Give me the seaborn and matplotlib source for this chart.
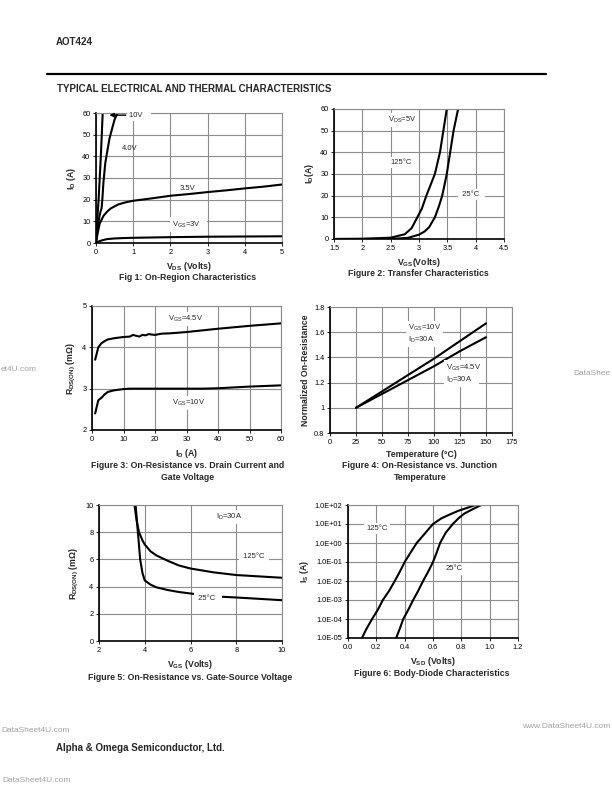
import matplotlib
matplotlib.use("Agg")
import matplotlib.pyplot as plt
import seaborn as sns
from matplotlib.ticker import FixedLocator, NullLocator

sns.set_style("white")
plt.rcParams["font.family"] = ["Liberation Sans", "DejaVu Sans"]
plt.rcParams["mathtext.fontset"] = "custom"
plt.rcParams["mathtext.rm"] = "Liberation Sans"
plt.rcParams["mathtext.bf"] = "Liberation Sans:bold"
plt.rcParams["mathtext.it"] = "Liberation Sans:italic"

# ---- Fig 1: on-region characteristics (V_DS, I_D)
vds_10v = [0, 0.03, 0.07, 0.10, 0.13, 0.155, 0.18]
id_10v = [0, 10, 20, 30, 40, 50, 60]
vds_4v = [0, 0.03, 0.06, 0.10, 0.13, 0.15, 0.17, 0.20, 0.25, 0.30, 0.36, 0.42, 0.50, 0.58]
id_4v = [0, 5, 9, 13, 15, 16, 20, 28, 37, 42, 48, 52, 57, 60]
vds_35v = [0, 0.05, 0.1, 0.2, 0.3, 0.4, 0.6, 0.8, 1.0, 1.5, 2.0, 2.5, 3.0, 3.5, 4.0, 4.5, 5.0]
id_35v = [0, 5, 9, 12.5, 14.5, 16, 17.8, 18.8, 19.5, 20.6, 21.8, 22.6, 23.5, 24.3, 25.2, 26.0, 27.0]
vds_3v = [0, 0.1, 0.2, 0.3, 0.5, 0.7, 1.0, 1.5, 2.0, 2.5, 3.0, 3.5, 4.0, 4.5, 5.0]
id_3v = [0, 0.9, 1.4, 1.8, 2.1, 2.25, 2.4, 2.55, 2.7, 2.8, 2.9, 2.95, 3.0, 3.05, 3.1]

# ---- Fig 2: transfer characteristics (V_GS, I_D)
vgs_125 = [1.5, 2.0, 2.5, 2.75, 2.87, 2.95, 3.05, 3.13, 3.22, 3.28, 3.37, 3.43, 3.49]
id_125 = [0, 0.1, 0.6, 2.2, 5, 9, 14, 20, 26, 30, 40, 50, 60]
vgs_25 = [1.5, 2.5, 2.8, 3.0, 3.1, 3.18, 3.28, 3.35, 3.41, 3.49, 3.55, 3.61, 3.69]
id_25 = [0, 0.05, 0.5, 2.0, 3.5, 5.5, 10, 15, 20, 30, 40, 50, 60]

# ---- Fig 3: R_DS(ON) vs I_D
id_r = [1, 2, 3, 4, 5, 7, 10, 12, 13, 14, 15, 16, 17, 18, 20, 22, 25, 30, 35, 40, 50, 60]
rds_45v = [3.7, 4.0, 4.1, 4.15, 4.19, 4.22, 4.25, 4.26, 4.3, 4.28, 4.26, 4.3, 4.29, 4.32, 4.30, 4.33, 4.34,
           4.37, 4.41, 4.45, 4.52, 4.58]
rds_10v = [2.4, 2.72, 2.78, 2.86, 2.92, 2.96, 2.99, 3.0, 3.0, 3.0, 3.0, 3.0, 3.0, 3.0, 3.0, 3.0, 3.0,
           3.0, 3.0, 3.01, 3.05, 3.08]

# ---- Fig 4: normalized on-resistance vs temperature
temp = [25, 50, 75, 100, 125, 150]
rn_10v = [1.0, 1.13, 1.26, 1.39, 1.53, 1.67]
rn_45v = [1.0, 1.11, 1.22, 1.33, 1.45, 1.56]

# ---- Fig 5: R_DS(ON) vs V_GS
vgs5_125 = [3.55, 3.65, 3.75, 3.9, 4.0, 4.25, 4.5, 5.0, 5.5, 6.0, 7.0, 8.0, 9.0, 10.0]
rds5_125 = [10.0, 8.8, 8.0, 7.4, 7.1, 6.6, 6.3, 5.9, 5.55, 5.33, 5.05, 4.85, 4.75, 4.65]
vgs5_25 = [3.6, 3.7, 3.8, 3.9, 4.0, 4.25, 4.5, 5.0, 5.5, 6.2, 7.4, 8.0, 9.0, 10.0]
rds5_25 = [10.0, 8.0, 6.0, 5.0, 4.45, 4.15, 3.95, 3.75, 3.6, 3.45, 3.25, 3.2, 3.1, 3.0]

# ---- Fig 6: body diode (V_SD, I_S)
vsd_125 = [0.098, 0.13, 0.17, 0.21, 0.246, 0.29, 0.33, 0.365, 0.40, 0.44, 0.485, 0.54, 0.60,
           0.66, 0.72, 0.78, 0.84, 0.90]
is_125 = [1e-5, 3e-5, 1e-4, 3e-4, 1e-3, 3e-3, 1e-2, 3e-2, 1e-1, 3e-1, 1e0, 3e0, 1e1,
          20, 32, 50, 70, 100]
vsd_25 = [0.34, 0.365, 0.39, 0.425, 0.46, 0.495, 0.53, 0.565, 0.60, 0.625, 0.65, 0.69, 0.74,
          0.78, 0.82, 0.88, 0.94]
is_25 = [1e-5, 3e-5, 1e-4, 3e-4, 1e-3, 3e-3, 1e-2, 3e-2, 1e-1, 3e-1, 1e0, 3.5, 10,
         20, 35, 60, 100]
is_ticks = [1e-5, 1e-4, 1e-3, 1e-2, 1e-1, 1e0, 1e1, 1e2]
is_labels = ["1.0E-05", "1.0E-04", "1.0E-03", "1.0E-02", "1.0E-01", "1.0E+00", "1.0E+01", "1.0E+02"]

W, H = 612, 792
fig = plt.figure(figsize=(W / 100, H / 100), dpi=100)

GRID = "#8c8c8c"
TICK_FS = 5.3
LAB_FS = 6.3
CAP_FS = 6.3
box = dict(facecolor="white", edgecolor="none", pad=1.5)


def make_ax(x0, y0, x1, y1):
    ax = fig.add_axes([x0 / W, 1 - y1 / H, (x1 - x0) / W, (y1 - y0) / H])
    ax.set_facecolor("white")
    for s in ["top", "right"]:
        ax.spines[s].set_color(GRID)
        ax.spines[s].set_linewidth(0.8)
    for s in ["left", "bottom"]:
        ax.spines[s].set_color("black")
        ax.spines[s].set_linewidth(1.2)
    ax.grid(True, color=GRID, linewidth=0.8)
    ax.set_axisbelow(True)
    ax.tick_params(labelsize=TICK_FS, length=2, width=0.6, pad=2, direction="out",
                   left=True, bottom=True, colors="black")
    return ax


def curve(ax, x, y):
    sns.lineplot(x=x, y=y, ax=ax, color="black", linewidth=1.5, sort=False,
                 estimator=None, legend=False)


def ftxt(x, y, s, **kw):
    fig.text(x / W, 1 - y / H, s, **kw)


# header
ftxt(56, 42, "AOT424", fontsize=7, fontweight="bold", va="center")
fig.add_artist(plt.Line2D([47 / W, 546 / W], [1 - 74 / H, 1 - 74 / H], color="black", linewidth=1.6))
ftxt(57, 89, "TYPICAL ELECTRICAL AND THERMAL CHARACTERISTICS", fontsize=7, fontweight="bold", va="center")

# Fig 1
ax1 = make_ax(96, 113, 282, 243)
curve(ax1, vds_10v, id_10v)
curve(ax1, vds_4v, id_4v)
curve(ax1, vds_35v, id_35v)
curve(ax1, vds_3v, id_3v)
ax1.set_xlim(0, 5)
ax1.set_ylim(0, 60)
ax1.set_xticks(range(0, 6))
ax1.set_yticks(range(0, 61, 10))
ax1.annotate("", xy=(0.36, 59), xytext=(0.80, 59),
             arrowprops=dict(arrowstyle="-|>", color="black", lw=1.0, mutation_scale=6,
                             shrinkA=0, shrinkB=0))
ax1.text(0.9, 59, "10V   ", fontsize=5.5, va="center", bbox=box)
ax1.text(0.7, 43.5, "4.0V", fontsize=5.5, va="center")
ax1.text(2.25, 25.3, "3.5V", fontsize=5.5, va="center")
ax1.text(2.05, 8.5, r"$\mathregular{V_{GS}}$=3V   ", fontsize=5.5, va="center", bbox=box)
ax1.set_xlabel(r"$\mathbf{V_{DS}}$ (Volts)", fontsize=LAB_FS, fontweight="bold", labelpad=3)
ax1.set_ylabel(r"$\mathbf{I_{D}}$ (A)", fontsize=LAB_FS, fontweight="bold", labelpad=3)
ftxt(188, 278, "Fig 1: On-Region Characteristics", fontsize=CAP_FS, fontweight="bold", ha="center", va="center")

# Fig 2
ax2 = make_ax(334, 109, 504, 239)
curve(ax2, vgs_125, id_125)
curve(ax2, vgs_25, id_25)
ax2.set_xlim(1.5, 4.5)
ax2.set_ylim(0, 60)
ax2.set_xticks([1.5, 2, 2.5, 3, 3.5, 4, 4.5])
ax2.set_xticklabels(["1.5", "2", "2.5", "3", "3.5", "4", "4.5"])
ax2.set_yticks(range(0, 61, 10))
ax2.text(2.45, 55, r"$\mathregular{V_{DS}}$=5V", fontsize=5.5, va="center", bbox=box)
ax2.text(2.5, 35.5, "125°C", fontsize=5.5, va="center", bbox=box)
ax2.text(3.72, 20.5, " 25°C  ", fontsize=5.5, va="center", bbox=box)
ax2.set_xlabel(r"$\mathbf{V_{GS}}$(Volts)", fontsize=LAB_FS, fontweight="bold", labelpad=3)
ax2.set_ylabel(r"$\mathbf{I_{D}}$(A)", fontsize=LAB_FS, fontweight="bold", labelpad=3)
ftxt(418, 274, "Figure 2: Transfer Characteristics", fontsize=CAP_FS, fontweight="bold", ha="center", va="center")

# Fig 3
ax3 = make_ax(92, 306, 281, 430)
curve(ax3, id_r, rds_45v)
curve(ax3, id_r, rds_10v)
ax3.set_xlim(0, 60)
ax3.set_ylim(2, 5)
ax3.set_xticks(range(0, 61, 10))
ax3.set_yticks([2, 3, 4, 5])
ax3.text(24, 4.69, r"$\mathregular{V_{GS}}$=4.5V", fontsize=5.5, va="center", bbox=box)
ax3.text(25.5, 2.65, r"$\mathregular{V_{GS}}$=10V", fontsize=5.5, va="center", bbox=box)
ax3.set_xlabel(r"$\mathbf{I_{D}}$ (A)", fontsize=LAB_FS, fontweight="bold", labelpad=3)
ax3.set_ylabel(r"$\mathbf{R_{DS(ON)}}$ (m$\mathbf{\Omega}$)", fontsize=LAB_FS, fontweight="bold", labelpad=3)
ftxt(188, 466, "Figure 3: On-Resistance vs. Drain Current and", fontsize=CAP_FS, fontweight="bold",
     ha="center", va="center")
ftxt(188, 477, "Gate Voltage", fontsize=CAP_FS, fontweight="bold", ha="center", va="center")

# Fig 4
ax4 = make_ax(330, 307, 512, 433)
curve(ax4, temp, rn_10v)
curve(ax4, temp, rn_45v)
ax4.set_xlim(0, 175)
ax4.set_ylim(0.8, 1.8)
ax4.set_xticks(range(0, 176, 25))
ax4.set_yticks([0.8, 1.0, 1.2, 1.4, 1.6, 1.8])
ax4.set_yticklabels(["0.8", "1", "1.2", "1.4", "1.6", "1.8"])
ax4.text(75, 1.635, r"$\mathregular{V_{GS}}$=10V", fontsize=5.5, va="center", bbox=box)
ax4.text(75, 1.54, r"$\mathregular{I_{D}}$=30A   ", fontsize=5.5, va="center", bbox=box)
ax4.text(112, 1.32, r"$\mathregular{V_{GS}}$=4.5V", fontsize=5.5, va="center", bbox=box)
ax4.text(112, 1.225, r"$\mathregular{I_{D}}$=30A   ", fontsize=5.5, va="center", bbox=box)
ax4.set_xlabel("Temperature (°C)", fontsize=LAB_FS, fontweight="bold", labelpad=3)
ax4.set_ylabel("Normalized On-Resistance", fontsize=LAB_FS, fontweight="bold", labelpad=3)
ftxt(420, 466, "Figure 4: On-Resistance vs. Junction", fontsize=CAP_FS, fontweight="bold",
     ha="center", va="center")
ftxt(420, 477, "Temperature", fontsize=CAP_FS, fontweight="bold", ha="center", va="center")

# Fig 5
ax5 = make_ax(99, 505, 282, 641)
curve(ax5, vgs5_125, rds5_125)
curve(ax5, vgs5_25, rds5_25)
ax5.set_xlim(2, 10)
ax5.set_ylim(0, 10)
ax5.set_xticks(range(2, 11, 2))
ax5.set_yticks(range(0, 11, 2))
ax5.text(7.1, 9.1, r"$\mathregular{I_{D}}$=30A", fontsize=5.5, va="center", bbox=box)
ax5.text(8.2, 6.2, " 125°C ", fontsize=5.5, va="center", bbox=box)
ax5.text(6.25, 3.15, " 25°C  ", fontsize=5.5, va="center", bbox=box)
ax5.set_xlabel(r"$\mathbf{V_{GS}}$ (Volts)", fontsize=LAB_FS, fontweight="bold", labelpad=3)
ax5.set_ylabel(r"$\mathbf{R_{DS(ON)}}$ (m$\mathbf{\Omega}$)", fontsize=LAB_FS, fontweight="bold", labelpad=3)
ftxt(190, 677, "Figure 5: On-Resistance vs. Gate-Source Voltage", fontsize=CAP_FS, fontweight="bold",
     ha="center", va="center")

# Fig 6
ax6 = make_ax(348, 505, 518, 638)
curve(ax6, vsd_125, is_125)
curve(ax6, vsd_25, is_25)
ax6.set_yscale("log")
ax6.set_xlim(0, 1.2)
ax6.set_ylim(1e-5, 1e2)
ax6.set_xticks([0, 0.2, 0.4, 0.6, 0.8, 1.0, 1.2])
ax6.set_xticklabels(["0.0", "0.2", "0.4", "0.6", "0.8", "1.0", "1.2"])
ax6.yaxis.set_major_locator(FixedLocator(is_ticks))
ax6.yaxis.set_minor_locator(NullLocator())
ax6.set_yticklabels(is_labels)
ax6.text(0.13, 5.5, "125°C", fontsize=5.5, va="center", bbox=box)
ax6.text(0.69, 0.043, "25°C", fontsize=5.5, va="center", bbox=box)
ax6.set_xlabel(r"$\mathbf{V_{SD}}$ (Volts)", fontsize=LAB_FS, fontweight="bold", labelpad=3)
ax6.set_ylabel(r"$\mathbf{I_{S}}$ (A)", fontsize=LAB_FS, fontweight="bold", labelpad=3)
ftxt(432, 673, "Figure 6: Body-Diode Characteristics", fontsize=CAP_FS, fontweight="bold",
     ha="center", va="center")

# footer and watermarks
ftxt(56, 748, "Alpha & Omega Semiconductor, Ltd.", fontsize=7, fontweight="bold", va="center")
wm = dict(color="#a0a0a0", fontsize=6, va="center")
ftxt(1, 730, "DataSheet4U.com", **wm)
ftxt(610, 727, "www.DataSheet4U.com", ha="right", **wm)
ftxt(2, 781, "DataSheet4U.com", **wm)
ftxt(1, 370, "et4U.com", **wm)
ftxt(611, 373, "DataShee", ha="right", **wm)

fig.savefig("out.png", dpi=100)
